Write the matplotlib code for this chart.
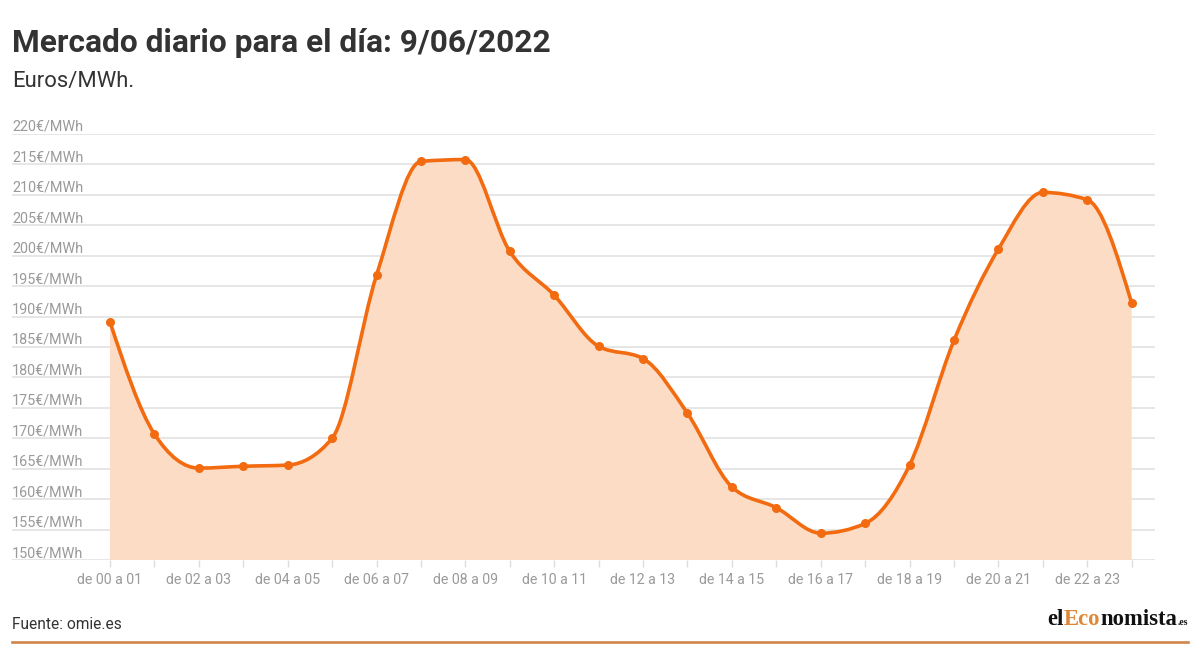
import matplotlib
matplotlib.use("Agg")
import matplotlib.pyplot as plt
import numpy as np
from matplotlib.path import Path
from matplotlib.patches import PathPatch
from matplotlib.lines import Line2D
from matplotlib.offsetbox import TextArea, HPacker, AnnotationBbox

hours = [
    "de 00 a 01", "de 01 a 02", "de 02 a 03", "de 03 a 04", "de 04 a 05", "de 05 a 06",
    "de 06 a 07", "de 07 a 08", "de 08 a 09", "de 09 a 10", "de 10 a 11", "de 11 a 12",
    "de 12 a 13", "de 13 a 14", "de 14 a 15", "de 15 a 16", "de 16 a 17", "de 17 a 18",
    "de 18 a 19", "de 19 a 20", "de 20 a 21", "de 21 a 22", "de 22 a 23", "de 23 a 24",
]
prices = [
    189.1, 170.7, 165.1, 165.4, 165.6, 170.0,
    196.8, 215.5, 215.8, 200.7, 193.5, 185.1,
    183.1, 174.1, 162.0, 158.6, 154.4, 156.0,
    165.6, 186.1, 201.1, 210.4, 209.2, 192.2,
]
y_ticks = [150, 155, 160, 165, 170, 175, 180, 185, 190, 195, 200, 205, 210, 215, 220]

LINE = "#f26b10"
FILL = "#fddcc6"
GRID = "#e6e6e6"
LABEL = "#9a9a9a"
DARK = "#333333"


def monotone_path(x, y):
    # same curve as d3.curveMonotoneX
    x = np.asarray(x, float)
    y = np.asarray(y, float)
    n = len(x)
    h = np.diff(x)
    s = np.diff(y) / h
    t = np.zeros(n)
    for i in range(1, n - 1):
        p = (s[i - 1] * h[i] + s[i] * h[i - 1]) / (h[i - 1] + h[i])
        t[i] = (np.sign(s[i - 1]) + np.sign(s[i])) * min(abs(s[i - 1]), abs(s[i]), 0.5 * abs(p))
    t[0] = (3 * s[0] - t[1]) / 2
    t[-1] = (3 * s[-1] - t[-2]) / 2
    verts = [(x[0], y[0])]
    codes = [Path.MOVETO]
    for i in range(n - 1):
        dx = h[i] / 3
        verts += [(x[i] + dx, y[i] + dx * t[i]), (x[i + 1] - dx, y[i + 1] - dx * t[i + 1]), (x[i + 1], y[i + 1])]
        codes += [Path.CURVE4] * 3
    return verts, codes


plt.rcParams['font.family'] = ['Roboto', 'DejaVu Sans']

W, H = 1200, 655
fig = plt.figure(figsize=(W / 100, H / 100), dpi=100)
ax_l, ax_r, ax_t, ax_b = 12, 1155, 134, 560
ax = fig.add_axes([ax_l / W, 1 - ax_b / H, (ax_r - ax_l) / W, (ax_b - ax_t) / H])

x = np.arange(len(prices))
verts, codes = monotone_path(x, prices)

base = y_ticks[0]
fill_verts = verts + [(x[-1], base), (x[0], base), verts[0]]
fill_codes = codes + [Path.LINETO, Path.LINETO, Path.CLOSEPOLY]
ax.add_patch(PathPatch(Path(fill_verts, fill_codes), facecolor=FILL, edgecolor="none", zorder=2))
ax.add_patch(PathPatch(Path(verts, codes), facecolor="none", edgecolor=LINE, lw=2.6, zorder=3,
                       capstyle="round", joinstyle="round"))
ax.plot(x, prices, "o", color=LINE, ms=6.5, mec="none", zorder=4)

# x range so that first point sits at 110 px and last at ~1132 px
step = (1131.7 - 110) / (len(prices) - 1)
ax.set_xlim(-(110 - ax_l) / step, len(prices) - 1 + (ax_r - 1131.7) / step)
ax.set_ylim(y_ticks[0], y_ticks[-1])

for sp in ax.spines.values():
    sp.set_visible(False)

ax.set_yticks(y_ticks)
ax.set_yticklabels([f"{v}€/MWh" for v in y_ticks])
ax.yaxis.grid(True, color=GRID, lw=1.4, zorder=1)
ax.set_axisbelow(True)
ax.tick_params(axis="y", length=0, pad=0, labelsize=10.4, labelcolor=LABEL)
for lab in ax.get_yticklabels():
    lab.set_horizontalalignment("left")
    lab.set_verticalalignment("bottom")

ax.set_xticks(x)
ax.set_xticklabels([h if i % 2 == 0 else "" for i, h in enumerate(hours)])
ax.tick_params(axis="x", length=5, width=1, color="#dddddd", pad=4, labelsize=10.2, labelcolor=LABEL)

fig.text(12 / W, 1 - 52 / H, "Mercado diario para el día: 9/06/2022", fontsize=22.8, fontweight="bold",
         color=DARK, ha="left", va="baseline")
fig.text(12 / W, 1 - 87 / H, "Euros/MWh.", fontsize=15.8, color=DARK, ha="left", va="baseline")
fig.text(12 / W, 1 - 629 / H, "Fuente: omie.es", fontsize=11.2, color=DARK, ha="left", va="baseline")

fig.add_artist(Line2D([12 / W, 1188 / W], [1 - 641.5 / H, 1 - 641.5 / H], color="#cf8549", lw=1.9))

serif = dict(family="Liberation Serif", fontweight="bold", fontsize=16.3)
logo = HPacker(children=[
    TextArea("el", textprops=dict(color="#111111", **serif)),
    TextArea("Eco", textprops=dict(color="#e08735", **serif)),
    TextArea("nomista", textprops=dict(color="#111111", **serif)),
    TextArea(".es", textprops=dict(color="#111111", family="Liberation Serif", fontweight="bold", fontsize=7)),
], align="baseline", pad=0, sep=0)
fig.add_artist(AnnotationBbox(logo, (1188, H - 630), xycoords="figure pixels", box_alignment=(1, 0),
                              frameon=False, pad=0))

fig.savefig("out.png", dpi=100, facecolor="white")
